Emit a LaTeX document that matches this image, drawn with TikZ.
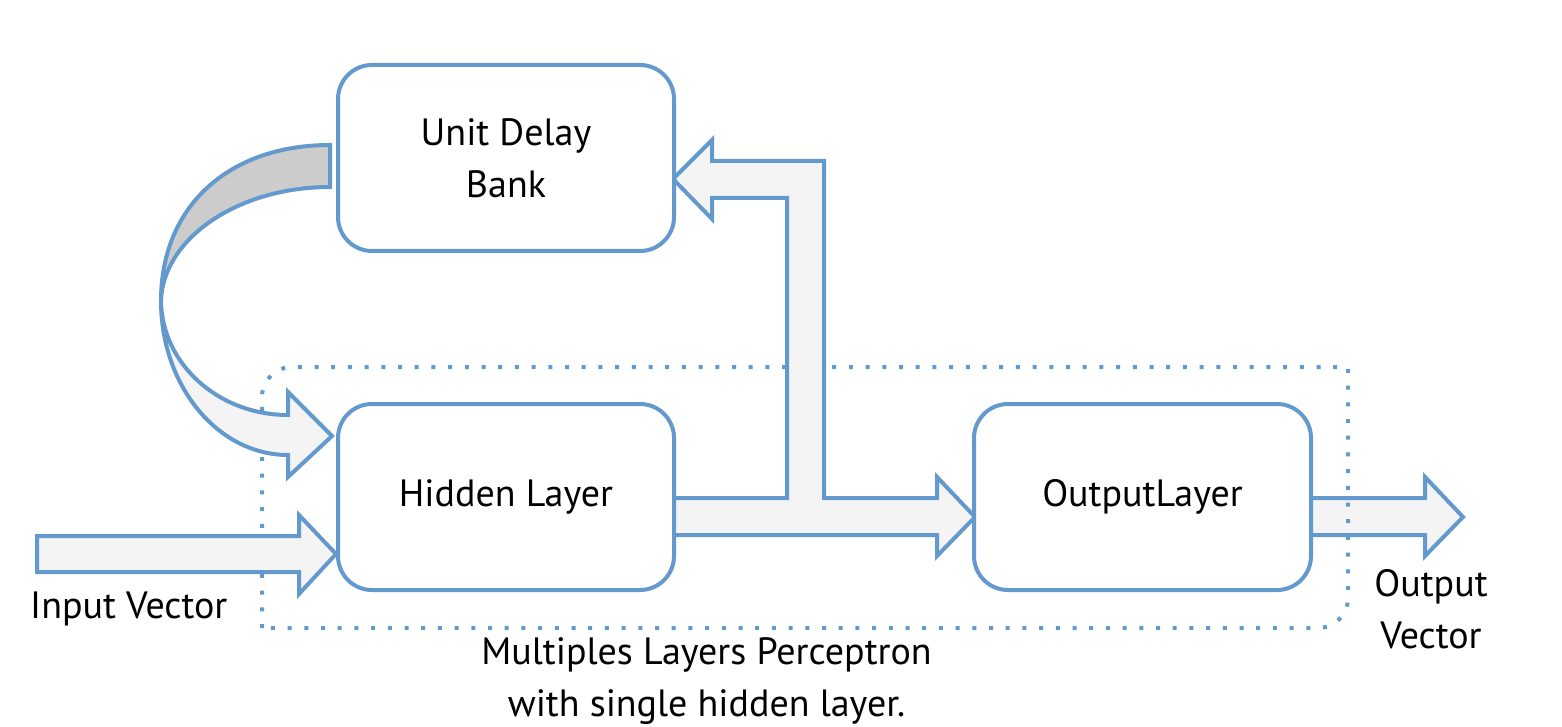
\documentclass[tikz,border=0pt]{standalone}
\usepackage{fontspec}
\setmainfont{PT Sans}
\definecolor{myblue}{RGB}{99,153,204}
\definecolor{arrowfill}{RGB}{244,244,244}
\definecolor{tailgray}{RGB}{204,204,204}
\begin{document}
\begin{tikzpicture}[x=1pt,y=-1pt,
  box/.style={draw=myblue, line width=4pt, rounded corners=34pt, fill=white,
    minimum width=336pt, minimum height=186pt, inner sep=0pt, align=center,
    font=\fontsize{38}{52}\selectfont},
  blockarrow/.style={draw=myblue, line width=4pt, fill=arrowfill, line join=miter, miter limit=10},
  lbl/.style={inner sep=0pt, align=center, font=\fontsize{38}{52}\selectfont},
  dotline/.style={draw=myblue, line width=4pt, dash pattern=on 4pt off 12.7pt}
]
\useasboundingbox (0,0) rectangle (1562,727);

% output arrow (under the dotted frame)
\coordinate (o0) at (1311,498);
\filldraw[blockarrow] (o0) -- (1425,498) -- (1425,477) -- (1463,517) -- (1425,556) -- (1425,535) -- (1311,535);

% dotted frame
\draw[dotline] (262,628) -- (262,397) .. controls (262,380.4) and (275.4,367) .. (292,367) -- (1348,367) -- (1348,598)
  .. controls (1348,614.6) and (1334.6,628) .. (1318,628) -- cycle;

% input arrow
\filldraw[blockarrow] (37,536) -- (299,536) -- (299,515) -- (336,554) -- (299,594) -- (299,572) -- (37,572) -- cycle;

% hidden -> output with branch to unit delay
\fill[arrowfill] (675,498) -- (787,498) -- (787,198) -- (712,198) -- (712,219) -- (673,179) -- (712,140) -- (712,161) -- (824,161) -- (824,498) -- (937,498) -- (937,477) -- (975,517) -- (937,556) -- (937,535) -- (675,535) -- cycle;
\draw[blockarrow, fill=none] (675,498) -- (787,498) -- (787,198) -- (712,198) -- (712,219) -- (673,179) -- (712,140) -- (712,161) -- (824,161) -- (824,498) -- (937,498) -- (937,477) -- (975,517) -- (937,556) -- (937,535) -- (675,535);

% curved feedback arrow
\filldraw[blockarrow, fill=tailgray] (330,145) .. controls (230,145) and (161,205) .. (161,301)
  .. controls (163,238.5) and (237.8,187) .. (330,187) -- cycle;
\filldraw[blockarrow] (161,301) .. controls (161,386) and (217.9,455) .. (288,455)
  -- (288,477) -- (332,436) -- (288,392) -- (288,415)
  .. controls (218.4,415) and (162,364) .. (161,301) -- cycle;

% boxes
\node[box] (delay) at (506,158) {Unit Delay\\Bank};
\node[box] (hidden) at (506,497) {Hidden Layer};
\node[box, minimum width=337pt] (output) at (1142.5,497) {OutputLayer};

% labels
\node[lbl, anchor=base west] (inlbl) at (30,618) {Input Vector};
\node[lbl, anchor=base] (outlbl) at (1431,648) {Output\\Vector};
\node[lbl, anchor=base] (mlp) at (706.5,716) {Multiples Layers Perceptron\\with single hidden layer.};
\end{tikzpicture}
\end{document}
